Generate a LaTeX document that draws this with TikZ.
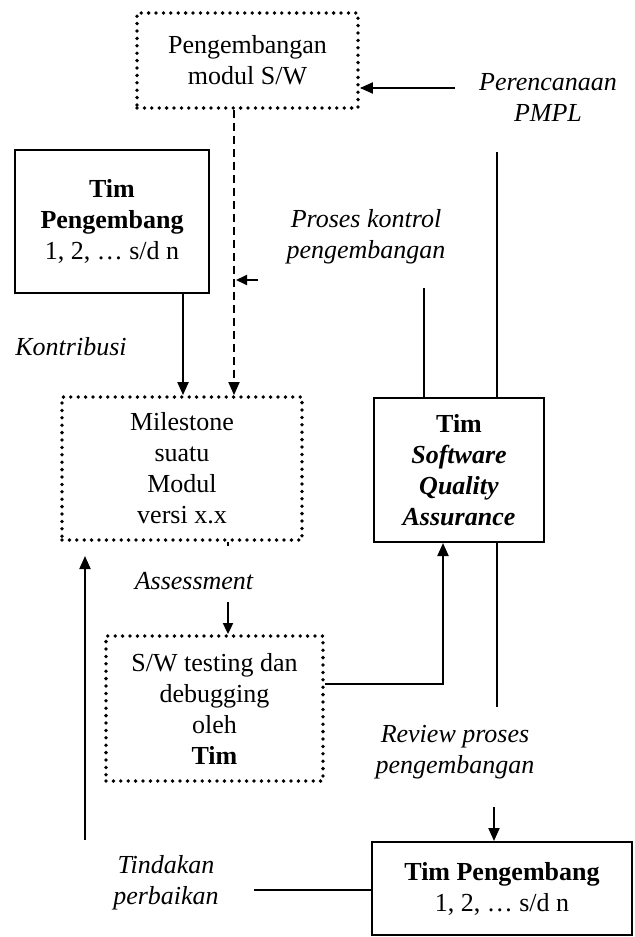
\documentclass[tikz,border=0pt]{standalone}
\usepackage{fontspec}
\setmainfont{Liberation Serif}
\usetikzlibrary{arrows.meta}

\begin{document}
\begin{tikzpicture}[x=0.5pt, y=-0.5pt, >={Triangle[length=6.5pt, width=5.5pt]},
    font=\fontsize{13}{15.5}\selectfont,
    % kotak bergaris penuh
    box/.style={
        draw,
        line width=1pt,
        align=center,
        inner sep=0pt
    },
    % kotak bertitik
    dotbox/.style={
        draw,
        line width=1.9pt,
        line cap=round,
        dash pattern=on 0pt off 3.7pt,
        align=center,
        inner sep=0pt
    },
    % panah
    arrow/.style={->, line width=1pt},
    smallarrow/.style={-{Triangle[length=5.5pt, width=5pt]}, line width=0.9pt},
    dasharrow/.style={->, line width=0.9pt, dash pattern=on 4pt off 2.5pt},
    % teks keterangan miring
    text_node/.style={
        align=center,
        font=\fontsize{13}{15.5}\selectfont\itshape
    }
]
    \useasboundingbox (0,0) rectangle (634,937);

    % ================== Bagian atas ==================
    \node[dotbox, minimum width=110.5pt, minimum height=47.5pt] (modP) at (247.5, 60.5) {Pengembangan\\modul S/W};
    \node[text_node] (perenc) at (548, 97) {Perencanaan\\PMPL};

    \node[box, minimum width=97pt, minimum height=71.5pt] (timA) at (112, 221.5) {\textbf{Tim}\\\textbf{Pengembang}\\1, 2, \dots\ s/d n};
    \node[text_node] (proses) at (366, 237) {Proses kontrol\\pengembangan};
    \node[text_node] (kontrib) at (71, 347) {Kontribusi};

    % ================== Bagian tengah ==================
    \node[dotbox, minimum width=120pt, minimum height=71.5pt] (mile) at (182, 468.5) {Milestone\\suatu\\Modul\\versi x.x};
    \node[box, minimum width=85pt, minimum height=72pt] (sqa) at (459, 470) {\textbf{Tim}\\\textbf{\textit{Software}}\\\textbf{\textit{Quality}}\\\textbf{\textit{Assurance}}};
    \node[text_node] (assess) at (194, 581) {Assessment};
    \node[dotbox, minimum width=108.5pt, minimum height=72.5pt] (test) at (214.5, 708.5) {S/W testing dan\\debugging\\oleh\\\textbf{Tim}};

    % ================== Bagian bawah ==================
    \node[text_node] (review) at (455, 752) {Review proses\\pengembangan};
    \node[box, minimum width=130pt, minimum height=46.5pt] (timB) at (502, 888.5) {\textbf{Tim Pengembang}\\1, 2, \dots\ s/d n};
    \node[text_node] (tindak) at (166, 883) {Tindakan\\perbaikan};

    % titik bantu
    \coordinate (perencStart) at (455, 88);
    \coordinate (dashX) at (234, 0);
    \coordinate (kontribX) at (183, 0);
    \coordinate (prosesTip) at (258, 280);
    \coordinate (prosesTop) at (424, 288);
    \coordinate (pmplTop) at (497, 152);
    \coordinate (assessX) at (228, 0);
    \coordinate (assessTick) at (228, 546);
    \coordinate (assessStart) at (228, 602);
    \coordinate (testOut) at (0, 684);
    \coordinate (sqaIn) at (443, 0);
    \coordinate (reviewTop) at (497, 707);
    \coordinate (reviewStart) at (494, 807);
    \coordinate (tindakEnd) at (254, 890);
    \coordinate (upBottom) at (85, 840);
    \coordinate (upTip) at (85, 556);

    % ================== Garis & panah ==================
    \draw[arrow] (perencStart) -- (perencStart -| modP.east);
    \draw[dasharrow] (dashX |- modP.south) -- (dashX |- mile.north);
    \draw[smallarrow] (prosesTip) -- ([xshift=1pt]dashX |- prosesTip);
    \draw[arrow] (kontribX |- timA.south) -- (kontribX |- mile.north);

    \draw[line width=1pt] (prosesTop) -- (prosesTop |- sqa.north);
    \draw[line width=1pt] (pmplTop) -- (pmplTop |- sqa.north);
    \draw[line width=1pt] (pmplTop |- sqa.south) -- (reviewTop);

    \draw[line width=0.9pt] (assessX |- mile.south) -- (assessTick);
    \draw[smallarrow] (assessStart) -- (assessX |- test.north);
    \draw[arrow] (test.east |- testOut) -| (sqaIn |- sqa.south);

    \draw[arrow] (reviewStart) -- (reviewStart |- timB.north);
    \draw[line width=1pt] (timB.west |- tindakEnd) -- (tindakEnd);
    \draw[arrow] (upBottom) -- (upTip);

\end{tikzpicture}
\end{document}
